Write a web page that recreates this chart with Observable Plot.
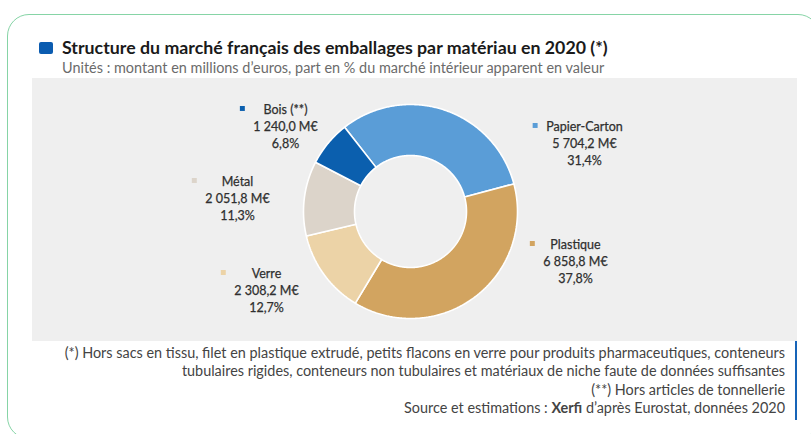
<!DOCTYPE html>
<html>
<head>
<meta charset="utf-8">
<script src="https://cdn.jsdelivr.net/npm/d3@7"></script>
<script src="https://cdn.jsdelivr.net/npm/@observablehq/plot@0.6"></script>
<style>
  html, body { margin: 0; padding: 0; }
  body { width: 811px; height: 434px; overflow: hidden; background: #ffffff; position: relative;
         font-family: Lato, "Open Sans", "Noto Sans", sans-serif; }
  #frame { position: absolute; left: 7px; top: 14px; width: 813px; height: 425px;
           border: 1.5px solid #86d4a6; border-radius: 22px; box-sizing: border-box; }
  #icon { position: absolute; left: 39px; top: 42px; width: 14px; height: 12px; background: #0b5cb0; border-radius: 2px; }
  .t { position: absolute; white-space: nowrap; line-height: 1; }
  #title { font-weight: 700; color: #1a1a1a; font-size: 16px; }
  #subtitle { color: #6b6b6b; font-size: 12.5px; }
  .foot { color: #444444; font-size: 12.5px; }
  #chart { position: absolute; left: 32px; top: 78px; width: 765px; height: 263px; background: #efefef; }
  #bar { position: absolute; left: 795px; top: 341px; width: 2px; height: 79px; background: #1764b8; }
</style>
</head>
<body>
<div id="frame"></div>
<div id="icon"></div>
<div id="title" class="t">Structure du marché français des emballages par matériau en 2020 (*)</div>
<div id="subtitle" class="t">Unités : montant en millions d’euros, part en % du marché intérieur apparent en valeur</div>
<div id="chart"></div>
<div id="f1" class="t foot">(*) Hors sacs en tissu, filet en plastique extrudé, petits flacons en verre pour produits pharmaceutiques, conteneurs</div>
<div id="f2" class="t foot">tubulaires rigides, conteneurs non tubulaires et matériaux de niche faute de données suffisantes</div>
<div id="f3" class="t foot">(**) Hors articles de tonnellerie</div>
<div id="f4" class="t foot">Source et estimations : <b>Xerfi</b> d’après Eurostat, données 2020</div>
<div id="bar"></div>
<script>
// ---- Data ----
const categories = ["Papier-Carton", "Plastique", "Verre", "Métal", "Bois (**)"];
const amounts = [5704.2, 6858.8, 2308.2, 2051.8, 1240.0];   // M€
const shares = [31.4, 37.8, 12.7, 11.3, 6.8];               // %

// ---- Styling / layout (not data) ----
const colors = ["#5a9dd7", "#d2a460", "#ecd3a7", "#dcd4ca", "#0b5fae"];
const startDeg = -38;             // first slice angle
const innerRatio = 56 / 107;      // hole radius / outer radius
const labelX = [1.626, 1.542, -1.346, -1.617, -1.168];   // label block centres, in outer-radius units
const labelY = [0.645, -0.458, -0.729, 0.131, 0.804];
const W = 765, H = 263, R = 107, CX = 378, CY = 133;
const labelFont = 12.5, lineH = 17;

// ---- Helpers for HTML text placement ----
function baselineOf(el) {
  const p = document.createElement("span");
  p.style.cssText = "display:inline-block;width:0;height:0;";
  el.appendChild(p);
  const b = p.offsetTop;
  el.removeChild(p);
  return b;
}
function fitWidth(el, target) {
  const fs = parseFloat(getComputedStyle(el).fontSize);
  const w = el.getBoundingClientRect().width;
  const nfs = fs * target / w;
  el.style.fontSize = nfs + "px";
  return nfs;
}
function place(el, x, baseline, align) {
  const w = el.getBoundingClientRect().width;
  el.style.left = (align === "right" ? x - w : x) + "px";
  el.style.top = (baseline - baselineOf(el)) + "px";
}

const title = document.getElementById("title");
fitWidth(title, 546); place(title, 62, 54);
const sub = document.getElementById("subtitle");
fitWidth(sub, 543); place(sub, 62, 73.3);
const f1 = document.getElementById("f1");
const ffs = fitWidth(f1, 721);
const foots = ["f1", "f2", "f3", "f4"].map(id => document.getElementById(id));
const footBase = [357.5, 376, 394.5, 413];
foots.forEach((el, i) => { el.style.fontSize = ffs + "px"; place(el, 785, footBase[i], "right"); });

// ---- Chart ----
const fmt = d3.formatLocale({decimal: ",", thousands: " ", grouping: [3], currency: ["", ""]}).format(",.1f");
const data = categories.map((c, i) => ({
  cat: c, amount: amounts[i], share: shares[i],
  label: `${c}\n${fmt(amounts[i])} M€\n${String(shares[i].toFixed(1)).replace(".", ",")}%`,
  lx: labelX[i], ly: labelY[i]
}));

const start = startDeg * Math.PI / 180;
const arcs = d3.pie().sort(null).value(d => d.amount).startAngle(start).endAngle(start + 2 * Math.PI)(data);
const ring = arcs.flatMap(a => {
  const n = Math.max(2, Math.ceil((a.endAngle - a.startAngle) / (Math.PI / 360)));
  const ts = d3.range(n + 1).map(i => a.startAngle + (a.endAngle - a.startAngle) * i / n);
  const outer = ts.map(t => ({cat: a.data.cat, x: Math.sin(t), y: Math.cos(t)}));
  const inner = ts.slice().reverse().map(t => ({cat: a.data.cat, x: innerRatio * Math.sin(t), y: innerRatio * Math.cos(t)}));
  return outer.concat(inner);
});

// legend-key markers next to each label's first line
const ctx = document.createElement("canvas").getContext("2d");
ctx.font = `${labelFont}px Lato, "Open Sans", sans-serif`;
const markers = data.map(d => {
  const maxW = d3.max(d.label.split("\n"), s => ctx.measureText(s).width);
  return {cat: d.cat, x: d.lx - (maxW / 2 + 11) / R, y: d.ly + lineH / R};
});

const plot = Plot.plot({
  width: W, height: H,
  margin: 0,
  style: {background: "transparent", overflow: "visible"},
  x: {domain: [-CX / R, (W - CX) / R], axis: null},
  y: {domain: [-(H - CY) / R, CY / R], axis: null},
  color: {domain: categories, range: colors},
  marks: [
    Plot.line(ring, {x: "x", y: "y", z: "cat", fill: "cat", stroke: "#ffffff", strokeWidth: 1.6, strokeLinejoin: "miter", curve: "linear-closed"}),
    Plot.dot(markers, {x: "x", y: "y", fill: "cat", symbol: "square", r: 2.8, stroke: null}),
    Plot.text(data, {x: "lx", y: "ly", text: "label", fontSize: labelFont, lineHeight: lineH / labelFont,
                     textAnchor: "middle", lineAnchor: "middle", fill: "#2f2f2f", stroke: "#2f2f2f", strokeWidth: 0.25,
                     fontFamily: "Lato, 'Open Sans', sans-serif"})
  ]
});
document.getElementById("chart").appendChild(plot);
</script>
</body>
</html>
